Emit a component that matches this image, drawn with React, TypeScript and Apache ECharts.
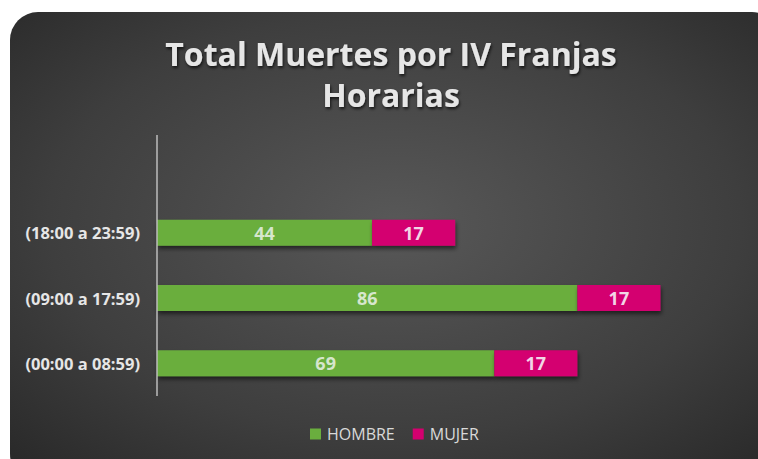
import React, { useEffect, useRef } from "react";
import * as echarts from "echarts";

const categories = ["(00:00 a 08:59)", "(09:00 a 17:59)", "(18:00 a 23:59)"];
const hombre = [69, 86, 44];
const mujer = [17, 17, 17];
const seriesNames = ["HOMBRE", "MUJER"];
const titleText = "Total Muertes por IV Franjas\nHorarias";

export default function App() {
  const ref = useRef<HTMLDivElement>(null);
  useEffect(() => {
    document.body.style.margin = "0";
    const chart = echarts.init(ref.current!, null, { renderer: "svg" });
    const font = "'Open Sans', 'Noto Sans', sans-serif";
    const labelCommon = {
      show: true,
      position: "inside",
      fontFamily: font,
      fontWeight: "bold",
      fontSize: 18,
    };
    chart.setOption({
      animation: false,
      backgroundColor: "#ffffff",
      graphic: [
        {
          type: "rect",
          left: 10,
          top: 12,
          z: -10,
          silent: true,
          shape: { width: 770, height: 470, r: 28 },
          style: {
            fill: {
              type: "radial",
              x: 0.5,
              y: 0.45,
              r: 0.75,
              colorStops: [
                { offset: 0, color: "#585858" },
                { offset: 0.6, color: "#3e3e3e" },
                { offset: 1, color: "#262626" },
              ],
            },
          },
        },
        {
          type: "line",
          z: 5,
          silent: true,
          shape: { x1: 157, y1: 135, x2: 157, y2: 396 },
          style: { stroke: "#bdbdbd", lineWidth: 1.5 },
        },
      ],
      title: {
        text: titleText,
        left: 386,
        textAlign: "center",
        top: 28,
        textStyle: {
          color: "#e6e6e6",
          fontFamily: font,
          fontWeight: "bold",
          fontSize: 32,
          lineHeight: 41,
          textShadowColor: "rgba(0,0,0,0.7)",
          textShadowBlur: 3,
          textShadowOffsetX: 1,
          textShadowOffsetY: 2,
        },
      },
      legend: {
        bottom: 12,
        left: 305,
        itemWidth: 11,
        itemHeight: 11,
        itemGap: 18,
        icon: "rect",
        textStyle: { color: "#d9d9d9", fontFamily: font, fontSize: 16, padding: [0, 0, 0, 1] },
        data: seriesNames,
      },
      grid: { left: 157, right: 12, top: 200, bottom: 63 },
      xAxis: {
        type: "value",
        min: 0,
        max: 120.5,
        show: false,
      },
      yAxis: {
        type: "category",
        data: categories,
        axisLine: { show: false },
        axisTick: { show: false },
        axisLabel: {
          color: "#e6e6e6",
          fontFamily: font,
          fontWeight: "bold",
          fontSize: 16.5,
          margin: 17,
        },
      },
      series: [
        {
          name: seriesNames[0],
          type: "bar",
          stack: "total",
          data: hombre,
          barWidth: 26,
          itemStyle: {
            color: "#6aae3e",
            shadowColor: "rgba(0,0,0,0.55)",
            shadowBlur: 4,
            shadowOffsetX: 1,
            shadowOffsetY: 3,
          },
          label: { ...labelCommon, color: "#d6e6cc" },
        },
        {
          name: seriesNames[1],
          type: "bar",
          stack: "total",
          data: mujer,
          barWidth: 26,
          itemStyle: {
            color: "#d4006f",
            shadowColor: "rgba(0,0,0,0.55)",
            shadowBlur: 4,
            shadowOffsetX: 1,
            shadowOffsetY: 3,
          },
          label: { ...labelCommon, color: "#f2d6e6" },
        },
      ],
    });
    return () => chart.dispose();
  }, []);
  return <div ref={ref} style={{ position: "absolute", left: 0, top: 0, width: 758, height: 459 }} />;
}
